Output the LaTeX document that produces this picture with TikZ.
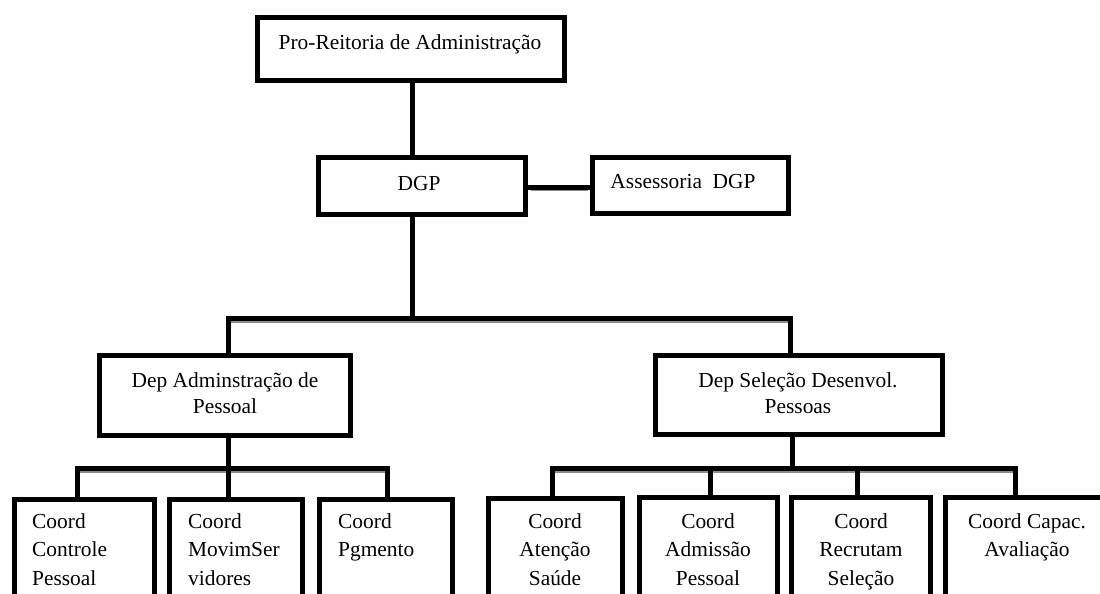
\documentclass[tikz,border=0pt]{standalone}
\usepackage{fontspec}
\setmainfont{Liberation Serif}
\newcommand\mytab[2]{\begin{tabular}[t]{@{}#1@{}}#2\end{tabular}}
\tikzset{
  x=1pt,y=1pt,
  box/.style={draw=black,line width=5pt,rectangle,inner sep=0pt,fill=white},
  conn/.style={draw=black,line width=5pt},
  grey/.style={draw=black!45,line width=2.5pt},
  lbl/.style={inner sep=0pt,anchor=base,font=\fontsize{21.4}{28.5}\selectfont},
  lbld/.style={inner sep=0pt,anchor=base,font=\fontsize{21.4}{26}\selectfont},
  lblw/.style={inner sep=0pt,anchor=base west,font=\fontsize{21.4}{28.5}\selectfont}
}
\begin{document}
\begin{tikzpicture}
\useasboundingbox (0,0) rectangle (1100,-594);
\clip (0,0) rectangle (1100,-594);
% boxes
\node[box,minimum width=307,minimum height=63] (top) at (411,-49) {};
\node[box,minimum width=207,minimum height=57] (dgp) at (422,-186) {};
\node[box,minimum width=196,minimum height=56] (ass) at (690.5,-185.5) {};
\node[box,minimum width=251,minimum height=80] (dep1) at (225,-395.5) {};
\node[box,minimum width=287,minimum height=79] (dep2) at (799,-395) {};
\node[box,minimum width=140,minimum height=138] (c1) at (84.5,-568.5) {};
\node[box,minimum width=133,minimum height=138] (c2) at (236,-568.5) {};
\node[box,minimum width=133,minimum height=138] (c3) at (386,-568.5) {};
\node[box,minimum width=134,minimum height=138] (c4) at (555.5,-567.5) {};
\node[box,minimum width=138,minimum height=138] (c5) at (708.5,-566) {};
\node[box,minimum width=139,minimum height=138] (c6) at (861,-566) {};
\node[box,minimum width=163,minimum height=138] (c7) at (1027,-566) {};
% bar coordinates
\coordinate (b0) at (412,-318);
\coordinate (bl) at (228,-468);
\coordinate (br) at (792,-468);
% grey undersides of bars
\draw[grey] ([xshift=2.5]dgp.east |- 0,-190) -- ([xshift=-2.5]ass.west |- 0,-190);
\draw[grey] (228,-321.5) -- (790,-321.5);
\draw[grey] (77,-471.5) -- (387,-471.5);
\draw[grey] (552,-471.5) -- (1015,-471.5);
% connectors
\draw[conn] ([xshift=1]top.south) -- ([xshift=-10]dgp.north);
\draw[conn] (dgp.east |- 0,-187) -- (ass.west |- 0,-187);
\draw[conn] ([xshift=-10]dgp.south) -- (b0);
\draw[conn] ([xshift=3]dep1.north) |- (b0) -| ([xshift=-9]dep2.north);
\draw[conn] ([xshift=3]dep1.south) -- (bl);
\draw[conn] ([xshift=-7.5]c1.north) |- (bl) -| ([xshift=1]c3.north);
\draw[conn] (bl) -- ([xshift=-8]c2.north);
\draw[conn] ([xshift=-7]dep2.south) -- (br);
\draw[conn] ([xshift=-3.5]c4.north) |- (br) -| ([xshift=-12]c7.north);
\draw[conn] ([xshift=1.5]c5.north) -- ([xshift=1.5]c5.north |- br);
\draw[conn] ([xshift=-4]c6.north) -- ([xshift=-4]c6.north |- br);
% labels
\node[lbl] (ttop) at (410,-50) {Pro-Reitoria de Administração};
\node[lbl] (tdgp) at (419,-190) {DGP};
\node[lbl] (tass) at (683,-188) {Assessoria\ \ DGP};
\node[lbld] (tdep1) at (225,-387) {\mytab{c}{Dep Adminstração de\\Pessoal}};
\node[lbld] (tdep2) at (798,-387) {\mytab{c}{Dep Seleção Desenvol.\\Pessoas}};
\node[lblw] (tc1) at (32,-528) {\mytab{l}{Coord\\Controle\\Pessoal}};
\node[lblw] (tc2) at (188,-528) {\mytab{l}{Coord\\MovimSer\\vidores}};
\node[lblw] (tc3) at (338,-528) {\mytab{l}{Coord\\Pgmento}};
\node[lbl] (tc4) at (555,-528) {\mytab{c}{Coord\\Atenção\\Saúde}};
\node[lbl] (tc5) at (708,-528) {\mytab{c}{Coord\\Admissão\\Pessoal}};
\node[lbl] (tc6) at (861,-528) {\mytab{c}{Coord\\Recrutam\\Seleção}};
\node[lbl] (tc7) at (1027,-528) {\mytab{c}{Coord Capac.\\Avaliação}};
\end{tikzpicture}
\end{document}
